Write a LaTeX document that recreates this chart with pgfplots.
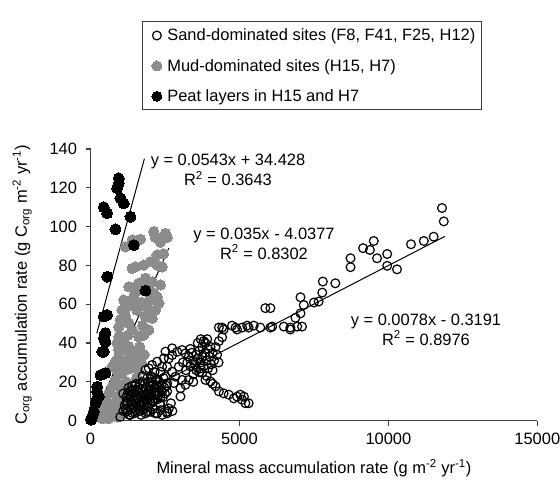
\documentclass[border=0pt]{standalone}
\usepackage{fontspec}
\setmainfont{Liberation Sans}
\usepackage{pgfplots}
\pgfplotsset{compat=1.18}
\definecolor{mudgray}{RGB}{140,140,140}
\definecolor{axisgray}{RGB}{60,60,60}
\newcommand{\fs}{\fontsize{16.5}{19.8}\selectfont}

\begin{document}
\begin{tikzpicture}
\useasboundingbox (0,0) rectangle (560bp,484bp);
\begin{axis}[
  at={(90.5bp,63.3bp)}, anchor=south west,
  scale only axis, width=446.8bp, height=271.7bp,
  xmin=0, xmax=15000, ymin=0, ymax=140,
  scaled ticks=false,
  axis x line*=bottom, axis y line*=left,
  axis line style={-, axisgray, line width=1.2bp},
  tick style={axisgray, line width=1.2bp},
  tick align=outside, major tick length=5bp,
  xtick={0,5000,10000,15000}, xticklabels={0,5000,10000,15000},
  ytick={0,20,...,140}, yticklabels={0,20,40,60,80,100,120,140},
  tick label style={font=\fs},
  xticklabel style={yshift=-4bp},
  yticklabel style={xshift=-5bp},
  clip=false,
  xlabel={Mineral mass accumulation rate (g m\textsuperscript{-2} yr\textsuperscript{-1})},
  ylabel={C\textsubscript{org} accumulation rate (g C\textsubscript{org} m\textsuperscript{-2} yr\textsuperscript{-1})},
  xlabel style={font=\fs, at={(axis description cs:0.5,-0.174)}, anchor=center},
  ylabel style={font=\fs, at={(axis description cs:-0.153,0.5)}, anchor=center},
  legend cell align=left,
  legend image code/.code={\path (0bp,-3bp) (18bp,3bp);
    \draw[#1] plot coordinates {(10bp,0bp)};},
  legend style={at={(axis description cs:0.115,1.47)}, anchor=north west,
    draw=axisgray, line width=1bp, font=\fs, row sep=13bp,
    inner xsep=4bp, inner ysep=5bp},
]
\addlegendimage{only marks, mark=o, mark size=4.4bp, black,
  mark options={draw=black, line width=1.2bp, fill=none}}
\addlegendentry{Sand-dominated sites (F8, F41, F25, H12)}
\addlegendimage{only marks, mark=*, mark size=5bp, mudgray,
  mark options={draw=mudgray, fill=mudgray, line width=0bp}}
\addlegendentry{Mud-dominated sites (H15, H7)}
\addlegendimage{only marks, mark=*, mark size=5bp, black,
  mark options={draw=black, fill=black, line width=0bp}}
\addlegendentry{Peat layers in H15 and H7}
% mud-dominated sites
\addplot[forget plot, only marks, mark=*, mark size=5.2bp, mudgray,
  mark options={draw=mudgray, fill=mudgray, line width=0bp}] coordinates {
(2125,97.4) (2517,96.5) (2574,94.5) (2181,94.5) (1678,93.5) (1400,93.1) (1175,89.6)
(2238,85.4) (2014,81.9) (1789,80.2) (1510,79.3) (1400,78.5) (2238,80.2) (2406,79.3)
(1846,73.4) (1621,70.8) (1510,69) (2070,71.6) (1957,69.9) (1286,69) (1621,67.3)
(1901,66.5) (2125,65.6) (2238,63.9) (2294,60.5) (2181,57) (2070,52.8) (1846,53.6)
(1957,46.7) (1789,44.2) (1621,43.3) (1400,46.7) (1286,50.2) (1175,53.6) (1231,58.7)
(1118,62.2) (1063,57) (951,48.4) (951,43.3) (895,39.9) (951,36.5) (1175,36.5)
(1286,38.2) (1400,35.6) (1510,33) (1453,30.4) (1286,31.3) (1118,29.6) (951,33)
(839,30.4) (728,27.8) (895,26.1) (1063,24.4) (1175,26.1) (839,21) (951,17.5)
(728,17.5) (616,14.1) (503,10.7) (393,7.2) (280,5.5) (503,3.8) (728,4.6) (951,7.2)
(1063,10.7) (895,12.4) (1175,14.1) (1286,15.9) (168,3.8) (56,2.1) (20,1)
(1340,60) (1450,64) (1560,57) (1700,61) (1250,44) (1120,41) (1000,52) (1350,27)
(1200,20) (1050,18) (800,9) (650,7) (900,2) (1100,4) (1300,8) (1400,11) (300,2)
(400,1) (600,1) (1000,14) (1550,22) (1600,26) (1700,30) (1800,34) (1650,38)
(1750,49) (1900,58) (2000,62) (2350,70) (2450,86) (2350,92)
};
% sand-dominated sites
\addplot[forget plot, only marks, mark=o, mark size=4.4bp, black,
  mark options={draw=black, line width=1.2bp, fill=none}] coordinates {
(1000,2) (1100,5)
(1150,8) (1200,12) (1250,5) (1300,15) (1350,10) (1400,18) (1450,7) (1500,13)
(1550,16) (1600,9) (1650,19) (1700,12) (1750,15) (1800,8) (1850,17) (1900,14)
(1950,20) (2000,11) (2050,16) (2100,18) (2150,13) (2200,21) (2250,15) (2300,17)
(2350,12) (2400,19) (2450,22) (2500,14) (2550,18) (1300,3) (1400,4) (1250,14)
(1600,17) (1750,20) (2050,22) (2300,20) (1200,9) (1350,6) (1450,11) (1550,12)
(1650,14) (1700,8) (1800,11) (1850,13) (1950,16) (2000,18) (2100,10) (2200,14)
(2250,11) (2400,15) (1500,18) (1900,9) (2150,17) (1100,14) (1400,16)
(1180,6) (1230,10) (1280,17) (1330,12) (1380,8) (1430,14) (1480,9) (1530,19)
(1580,11) (1630,6) (1680,16) (1730,10) (1780,13) (1830,19) (1880,11) (1930,7)
(1980,14) (2030,9) (2080,20) (2130,15) (2180,11) (2230,18) (2280,13) (2330,9)
(2380,16) (2430,12) (2480,17) (1500,4) (1650,5) (1800,6) (1950,12) (2050,13)
(1342,3) (1566,7.3) (1846,3.8) (1900,4.6) (2014,4.6) (2180,3.8) (2238,3.8)
(2350,5.5) (2350,8.1) (2406,3) (2574,3.8) (2574,4.6) (2630,6.3) (2750,5)
(2700,9) (1700,3) (2100,6)
(1846,26.1) (1957,27) (2070,28.7) (2238,30.4) (2461,32.1) (2630,32.1) (2742,33.8)
(2910,35.5) (3077,36.4) (3188,34.7) (1901,21.8) (2070,22.7) (2238,21) (2517,22.7)
(2574,19.3) (2742,25.2) (2965,27.8) (2853,22.7) (3077,21) (3188,18.5) (3300,21)
(3020,16.7) (2406,27.8) (2574,27.8) (2350,25.2) (2742,37.3) (2517,35.6)
(2795,19.4) (2574,15.1) (3020,12.5) (1750,23) (2150,25)
(3250,30) (3300,33) (3350,28) (3400,35) (3450,31) (3500,29) (3550,34) (3600,32)
(3650,36) (3700,30) (3750,33) (3800,28) (3850,35) (3900,31) (3950,37) (4000,33)
(4050,29) (4100,35) (4150,31) (4200,38) (4250,34) (3350,37) (3550,26) (3750,38)
(3950,27) (4100,26) (3450,24) (3650,25) (4300,30) (3600,40) (3700,42) (3800,41)
(3860,40) (3920,42) (4030,38) (4310,41) (4420,43) (3100,30) (3200,26)
(3750,24.6) (3860,21) (4030,20.2) (4200,17.7) (4310,15.1) (4470,14.1) (4640,13.4)
(4810,11.5) (4920,12.4) (5030,13.4) (5150,12.4) (5200,9) (5310,9) (5090,10.8)
(3700,27) (3900,23) (4100,19) (3450,20)
(4310,48) (4420,48) (4470,47) (4750,49) (4870,48) (4920,47) (5090,48) (5260,49)
(5310,48) (5480,49) (5700,48) (5870,58) (6040,48) (6100,48.5) (6490,48.5)
(6710,48) (6710,47) (6940,48.5) (7100,48.5) (6040,58)
(6880,53) (7050,55.3) (7050,63.6) (7160,59.6) (7500,60.9) (7660,61.4) (7780,66)
(7800,71.7) (8220,70.8) (8730,79.1) (8730,83.7) (9150,88.9) (9380,88) (9510,92.6)
(9620,83.7) (9960,85.9) (9960,79.8) (10290,78) (10760,90.9) (11190,92.6)
(11520,94.8) (11860,102.7) (11800,109.6)
};
% peat layers
\addplot[forget plot, only marks, mark=*, mark size=5.5bp, black,
  mark options={draw=black, fill=black, line width=0bp}] coordinates {
(951,124.9) (951,122.4) (895,119.8) (1007,114.6) (1118,112) (447,110) (560,106.9)
(1342,105.1) (839,98.6) (1453,90.5) (560,74.2) (1846,67) (560,54.5) (447,53.7)
(503,45.2) (447,42.5) (503,40.7) (393,35.5) (447,35.6) (503,24.6) (336,23.5)
(224,17.5) (224,14.9) (224,11.5) (280,12.5) (168,9) (112,4.6) (56,2.1) (20,0.5)
};
% trendlines
\addplot[black, line width=1bp, forget plot] coordinates {(210,45) (1810,135)};
\addplot[black, line width=1bp, forget plot] coordinates {(80,0.5) (2630,89)};
\addplot[black, line width=1bp, forget plot] coordinates {(40,1) (11900,95)};
\node[font=\fs, align=center] at (axis cs:4616,129.2) {y = 0.0543x + 34.428\\R\textsuperscript{2} = 0.3643};
\node[font=\fs, align=center] at (axis cs:5825,91.3) {y = 0.035x - 4.0377\\R\textsuperscript{2} = 0.8302};
\node[font=\fs, align=center] at (axis cs:11263,46.9) {y = 0.0078x - 0.3191\\R\textsuperscript{2} = 0.8976};
\end{axis}
\end{tikzpicture}
\end{document}
